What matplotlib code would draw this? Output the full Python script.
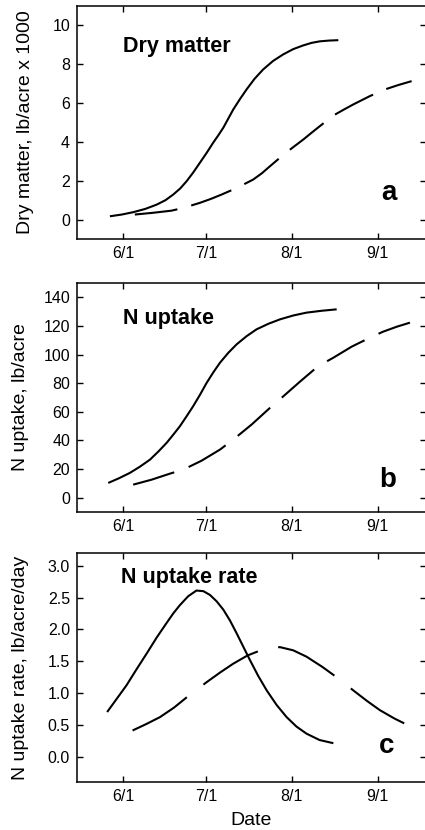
import matplotlib
matplotlib.use("Agg")
import matplotlib.pyplot as plt

plt.rcParams['font.family'] = ['Liberation Sans', 'DejaVu Sans']

# x positions are day of year (6/1 = 152, 7/1 = 182, 8/1 = 213, 9/1 = 244)
tick_days = [152, 182, 213, 244]
tick_labels = ["6/1", "7/1", "8/1", "9/1"]

# Panel a: dry matter, lb/acre x 1000
dm_solid_day = [147.2, 151.5, 155.6, 160.0, 164.1, 167.3, 170.1, 172.6, 174.9, 177.3, 179.7,
                182.2, 184.5, 186.4, 188.2, 190.0, 191.8, 194.2, 196.6, 199.5, 202.6,
                206.2, 209.9, 213.5, 217.1, 220.1, 223.1, 226.5, 229.8]
dm_solid_val = [0.17, 0.26, 0.38, 0.55, 0.77, 1.00, 1.29, 1.60, 1.97, 2.42, 2.92,
                3.44, 3.95, 4.34, 4.73, 5.20, 5.67, 6.20, 6.70, 7.25, 7.73,
                8.17, 8.51, 8.78, 8.97, 9.10, 9.18, 9.22, 9.24]
dm_dash_day = [156.2, 162.8, 169.5, 173.7, 179.7, 183.8, 187.6, 191.8, 195.4, 199.0, 202.1,
               205.1, 209.3, 213.2, 217.1, 220.1, 223.1, 228.0, 231.6, 235.2, 241.2,
               246.6, 251.5, 256.3]
dm_dash_val = [0.26, 0.35, 0.46, 0.60, 0.86, 1.07, 1.29, 1.55, 1.80, 2.06, 2.38,
               2.75, 3.26, 3.70, 4.12, 4.47, 4.81, 5.36, 5.65, 5.93, 6.36,
               6.70, 6.93, 7.13]

# Panel b: N uptake, lb/acre
nu_solid_day = [146.6, 150.5, 154.4, 158.0, 161.7, 164.7, 167.7, 170.1, 172.5, 174.9, 177.3,
                179.8, 182.2, 184.6, 187.0, 190.0, 193.0, 196.6, 200.2, 204.5, 208.7,
                213.5, 218.3, 223.8, 229.2]
nu_solid_val = [10.3, 13.6, 17.3, 21.6, 26.6, 32.2, 38.3, 44.0, 49.9, 56.8, 63.9,
                72.0, 80.3, 87.6, 94.3, 101.2, 107.1, 112.8, 117.6, 121.5, 124.6,
                127.3, 129.3, 130.6, 131.6]
nu_dash_day = [155.6, 162.3, 168.9, 173.7, 180.3, 187.0, 191.8, 198.5, 205.1, 209.3, 216.0,
               222.5, 228.0, 234.6, 241.2, 246.0, 251.0, 255.7]
nu_dash_val = [9.1, 12.6, 16.8, 19.6, 25.8, 33.6, 40.6, 51.2, 62.8, 69.8, 81.2,
               91.9, 97.8, 105.5, 111.8, 116.0, 119.5, 122.3]

# Panel c: N uptake rate, lb/acre/day
nr_solid_day = [146.2, 149.7, 153.2, 156.8, 160.5, 164.1, 167.7, 170.1, 172.5, 175.5, 178.5,
                181.0, 183.4, 185.8, 188.2, 190.6, 193.0, 195.4, 197.8, 200.8, 203.9,
                207.5, 211.1, 214.7, 218.3, 223.0, 228.0]
nr_solid_val = [0.70, 0.91, 1.12, 1.37, 1.62, 1.87, 2.10, 2.25, 2.38, 2.52, 2.61,
                2.60, 2.54, 2.44, 2.31, 2.14, 1.94, 1.73, 1.52, 1.27, 1.04,
                0.81, 0.62, 0.47, 0.36, 0.26, 0.21]
nr_dash_day = [155.4, 160.3, 165.3, 170.4, 175.5, 182.2, 187.0, 191.8, 197.0, 202.3, 205.5,
               208.7, 213.5, 218.3, 224.0, 229.4, 235.8, 240.3, 244.8, 250.0, 255.1]
nr_dash_val = [0.41, 0.51, 0.62, 0.77, 0.95, 1.17, 1.32, 1.46, 1.59, 1.68, 1.71,
               1.72, 1.67, 1.57, 1.41, 1.24, 1.02, 0.87, 0.73, 0.60, 0.49]

panels = [
    dict(sd=dm_solid_day, sv=dm_solid_val, dd=dm_dash_day, dv=dm_dash_val,
         ylim=(-1, 11), yticks=[0, 2, 4, 6, 8, 10], fmt="{:.0f}",
         ylabel="Dry matter, lb/acre x 1000", title="Dry matter", letter="a",
         rect=[77/425, 1-239/830, 349/425, 233/830], dash=(20.6, 6.9),
         lab_x=-0.123, title_xy=(0.133, 0.803), letter_xy=(0.894, 0.167)),
    dict(sd=nu_solid_day, sv=nu_solid_val, dd=nu_dash_day, dv=nu_dash_val,
         ylim=(-10, 150), yticks=[0, 20, 40, 60, 80, 100, 120, 140], fmt="{:.0f}",
         ylabel="N uptake, lb/acre", title="N uptake", letter="b",
         rect=[77/425, 1-512/830, 349/425, 229/830], dash=(20.6, 7.4),
         lab_x=-0.137, title_xy=(0.133, 0.821), letter_xy=(0.89, 0.110)),
    dict(sd=nr_solid_day, sv=nr_solid_val, dd=nr_dash_day, dv=nr_dash_val,
         ylim=(-0.4, 3.2), yticks=[0.0, 0.5, 1.0, 1.5, 2.0, 2.5, 3.0], fmt="{:.1f}",
         ylabel="N uptake rate, lb/acre/day", title="N uptake rate", letter="c",
         rect=[77/425, 1-782/830, 349/425, 229/830], dash=(30.7, 10.0),
         lab_x=-0.137, title_xy=(0.125, 0.868), letter_xy=(0.888, 0.127)),
]

fig = plt.figure(figsize=(4.25, 8.3), dpi=100)
for i, p in enumerate(panels):
    ax = fig.add_axes(p["rect"])
    ax.plot(p["sd"], p["sv"], color="black", lw=1.5, solid_capstyle="butt",
            solid_joinstyle="round")
    ln, = ax.plot(p["dd"], p["dv"], color="black", lw=1.5, dash_capstyle="butt",
                  dash_joinstyle="round")
    ln.set_dashes(p["dash"])
    ax.set_xlim(135.3, 261.5)
    ax.set_ylim(*p["ylim"])
    ax.set_xticks(tick_days)
    ax.set_xticklabels(tick_labels)
    ax.set_yticks(p["yticks"])
    ax.set_yticklabels([p["fmt"].format(v) for v in p["yticks"]])
    ax.tick_params(direction="in", length=4, width=1, top=True, right=True,
                   labelsize=11.5, pad=5)
    for s in ax.spines.values():
        s.set_linewidth(1.1)
    ax.set_ylabel(p["ylabel"], fontsize=14)
    ax.yaxis.set_label_coords(p["lab_x"], 0.5)
    ax.text(p["title_xy"][0], p["title_xy"][1], p["title"], transform=ax.transAxes,
            fontsize=15.5, fontweight="bold", ha="left", va="baseline")
    ax.text(p["letter_xy"][0], p["letter_xy"][1], p["letter"], transform=ax.transAxes,
            fontsize=20, fontweight="bold", ha="center", va="baseline")
    if i == 2:
        ax.set_xlabel("Date", fontsize=14, labelpad=6)

fig.savefig("out.png", dpi=100)
